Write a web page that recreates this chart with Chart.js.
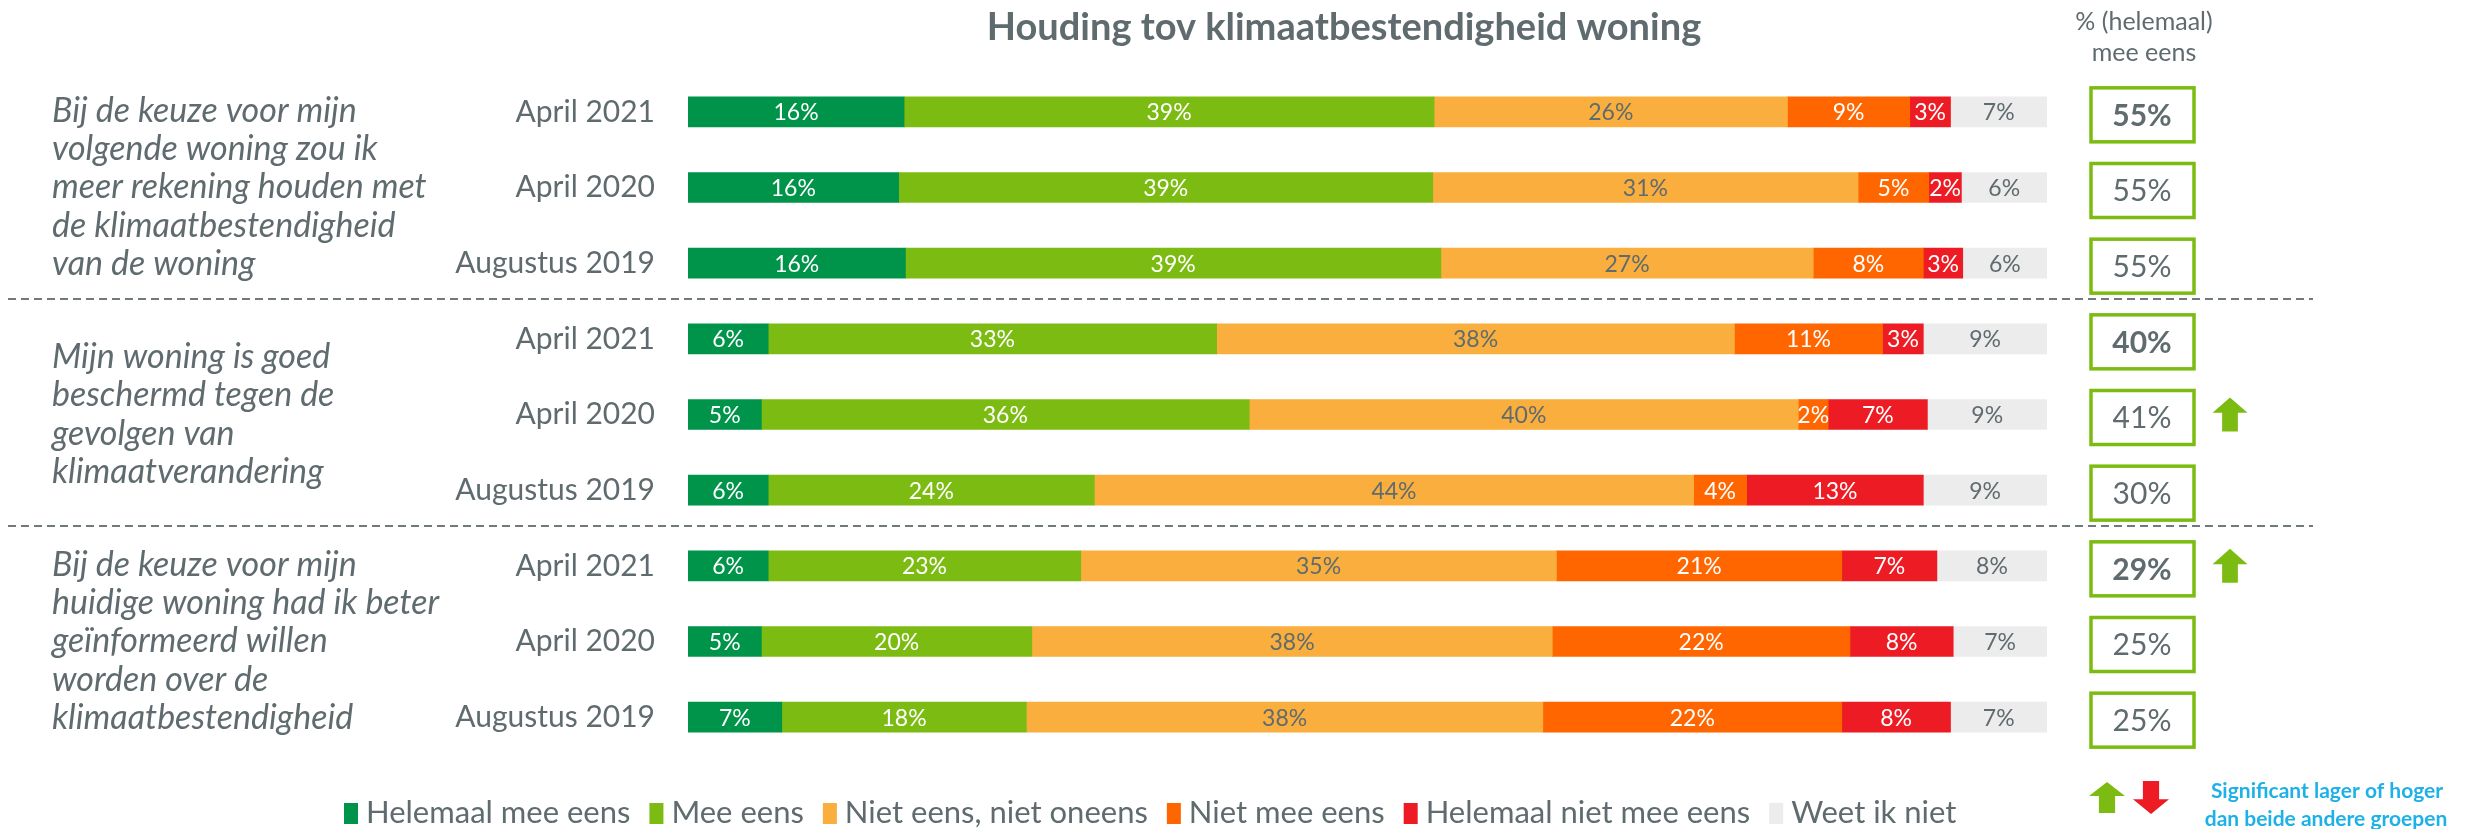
<!DOCTYPE html>
<html>
<head>
<meta charset="utf-8">
<script src="https://cdn.jsdelivr.net/npm/chart.js@4.4.0/dist/chart.umd.min.js"></script>
<style>
  html, body { margin: 0; padding: 0; background: #fff; }
  #wrap { width: 2471px; height: 829px; }
</style>
</head>
<body>
<div id="wrap"><canvas id="chart" width="2471" height="829"></canvas></div>
<script>
// gegevens
const periods = ['April 2021', 'April 2020', 'Augustus 2019',
                 'April 2021', 'April 2020', 'Augustus 2019',
                 'April 2021', 'April 2020', 'Augustus 2019']
const statements = [
  ['Bij de keuze voor mijn', 'volgende woning zou ik', 'meer rekening houden met', 'de klimaatbestendigheid', 'van de woning'],
  ['Mijn woning is goed', 'beschermd tegen de', 'gevolgen van', 'klimaatverandering'],
  ['Bij de keuze voor mijn', 'huidige woning had ik beter', 'geïnformeerd willen', 'worden over de', 'klimaatbestendigheid'],
]
const seriesNames = ['Helemaal mee eens', 'Mee eens', 'Niet eens, niet oneens', 'Niet mee eens', 'Helemaal niet mee eens', 'Weet ik niet']
const helemaalMeeEens     = [15.9, 15.5, 16.0,  5.9,  5.4,  5.9,  5.9,  5.4,  6.9]
const meeEens             = [39.0, 39.3, 39.4, 33.0, 35.9, 24.0, 23.0, 19.9, 18.0]
const nietEensNietOneens  = [26.0, 31.3, 27.4, 38.1, 40.4, 44.1, 35.0, 38.3, 38.0]
const nietMeeEens         = [ 9.0,  5.2,  8.1, 10.9,  2.2,  3.9, 21.0, 21.9, 22.0]
const helemaalNietMeeEens = [ 3.0,  2.4,  2.9,  3.0,  7.3, 13.0,  7.0,  7.6,  8.0]
const weetIkNiet          = [ 7.1,  6.3,  6.2,  9.1,  8.8,  9.1,  8.1,  6.9,  7.1]
const totaalMeeEens = [55, 55, 55, 40, 41, 30, 29, 25, 25]
const significantHoger = [false, false, false, false, true, false, true, false, false]

const GREY = '#5f6b6e'
const colors = ['#00934a', '#7cbc12', '#f9ae3d', '#ff6600', '#ed1c24', '#ececec']
const labelColors = ['#ffffff', '#ffffff', GREY, '#ffffff', '#ffffff', GREY]
const seriesData = [helemaalMeeEens, meeEens, nietEensNietOneens, nietMeeEens, helemaalNietMeeEens, weetIkNiet]

function drawArrow(ctx, cx, top, bottom, width, color, up) {
  const h = bottom - top
  const head = h * 0.45
  const shaft = width * 0.45
  ctx.fillStyle = color
  ctx.beginPath()
  if (up) {
    ctx.moveTo(cx, top)
    ctx.lineTo(cx + width / 2, top + head)
    ctx.lineTo(cx + shaft / 2, top + head)
    ctx.lineTo(cx + shaft / 2, bottom)
    ctx.lineTo(cx - shaft / 2, bottom)
    ctx.lineTo(cx - shaft / 2, top + head)
    ctx.lineTo(cx - width / 2, top + head)
  } else {
    ctx.moveTo(cx, bottom)
    ctx.lineTo(cx + width / 2, bottom - head)
    ctx.lineTo(cx + shaft / 2, bottom - head)
    ctx.lineTo(cx + shaft / 2, top)
    ctx.lineTo(cx - shaft / 2, top)
    ctx.lineTo(cx - shaft / 2, bottom - head)
    ctx.lineTo(cx - width / 2, bottom - head)
  }
  ctx.closePath()
  ctx.fill()
}

// labels in de balken
const barLabels = {
  id: 'barLabels',
  afterDatasetsDraw(chart) {
    const ctx = chart.ctx
    ctx.save()
    ctx.font = '23px Lato'
    ctx.textAlign = 'center'
    ctx.textBaseline = 'middle'
    chart.data.datasets.forEach((ds, di) => {
      chart.getDatasetMeta(di).data.forEach((bar, i) => {
        const v = ds.data[i]
        const x = (bar.base + bar.x) / 2
        ctx.fillStyle = labelColors[di]
        ctx.fillText(Math.round(v) + '%', x, bar.y + 1)
      })
    })
    ctx.restore()
  }
}

// titel, stellingen, kaders, legenda
const extras = {
  id: 'extras',
  afterDraw(chart) {
    const ctx = chart.ctx
    const y = chart.scales.y
    ctx.save()

    // titel
    ctx.fillStyle = GREY
    ctx.textAlign = 'center'
    ctx.textBaseline = 'middle'
    ctx.font = 'bold 38px Lato'
    ctx.fillText('Houding tov klimaatbestendigheid woning', 1344, 28)

    // kop rechts
    ctx.font = '25px Lato'
    ctx.fillText('% (helemaal)', 2144, 22)
    ctx.fillText('mee eens', 2144, 53)

    // stellingen links
    ctx.font = 'italic 34px Lato'
    ctx.textAlign = 'left'
    statements.forEach((lines, g) => {
      const cy = y.getPixelForValue(g * 3 + 1)
      const lh = 38.4
      lines.forEach((line, k) => {
        ctx.fillText(line, 52, cy + (k - (lines.length - 1) / 2) * lh)
      })
    })

    // stippellijnen
    ctx.strokeStyle = '#707a7c'
    ctx.lineWidth = 2
    ctx.setLineDash([8, 5])
    for (let g = 1; g < statements.length; g++) {
      const ly = Math.round((y.getPixelForValue(g * 3 - 1) + y.getPixelForValue(g * 3)) / 2) - 2
      ctx.beginPath()
      ctx.moveTo(8, ly)
      ctx.lineTo(2313, ly)
      ctx.stroke()
    }
    ctx.setLineDash([])

    // kaders met totaal
    totaalMeeEens.forEach((v, i) => {
      const cy = y.getPixelForValue(i) + 3
      ctx.strokeStyle = '#7cbc12'
      ctx.lineWidth = 3.5
      ctx.strokeRect(2091, cy - 27, 103, 54)
      ctx.fillStyle = GREY
      ctx.textAlign = 'center'
      ctx.font = (i % 3 === 0 ? 'bold ' : '') + '30px Lato'
      ctx.fillText(v + '%', 2142, cy + 1)
      if (significantHoger[i]) drawArrow(ctx, 2230, cy - 20, cy + 14, 35, '#7cbc12', true)
    })

    // legenda
    let lx = 344
    const ly = 813
    ctx.font = '31px Lato'
    ctx.textAlign = 'left'
    chart.data.datasets.forEach((ds) => {
      ctx.fillStyle = ds.backgroundColor
      ctx.fillRect(lx, ly - 10, 14, 21)
      ctx.fillStyle = GREY
      ctx.fillText(ds.label, lx + 22, ly)
      lx += 22 + ctx.measureText(ds.label).width + 19
    })

    // significantie
    drawArrow(ctx, 2107, 782, 813, 36, '#7cbc12', true)
    drawArrow(ctx, 2151, 781, 814, 36, '#ed1c24', false)
    ctx.fillStyle = '#1eb1e7'
    ctx.textAlign = 'center'
    ctx.font = 'bold 21px Lato'
    ctx.fillText('Significant lager of hoger', 2327, 791)
    ctx.fillText('dan beide andere groepen', 2326, 819)

    ctx.restore()
  }
}

function draw() {
  new Chart(document.getElementById('chart'), {
    type: 'bar',
    data: {
      labels: periods,
      datasets: seriesNames.map((name, i) => ({
        label: name,
        data: seriesData[i],
        backgroundColor: colors[i],
        borderWidth: 0,
        barThickness: 30,
      })),
    },
    options: {
      responsive: false,
      animation: false,
      indexAxis: 'y',
      layout: { padding: { left: 0, right: 424, top: 74, bottom: 74 } },
      scales: {
        x: { stacked: true, display: false, min: 0, max: 100 },
        y: {
          stacked: true,
          grid: { display: false },
          border: { display: false },
          ticks: { color: GREY, font: { family: 'Lato', size: 30 }, padding: 25 },
          afterFit(scale) { scale.width = 688 },
        },
      },
      plugins: {
        legend: { display: false },
        tooltip: { enabled: false },
      },
    },
    plugins: [barLabels, extras],
  })
}

Promise.all([
  document.fonts.load('30px Lato'),
  document.fonts.load('italic 34px Lato'),
  document.fonts.load('bold 30px Lato'),
]).then(draw, draw)
</script>
</body>
</html>
